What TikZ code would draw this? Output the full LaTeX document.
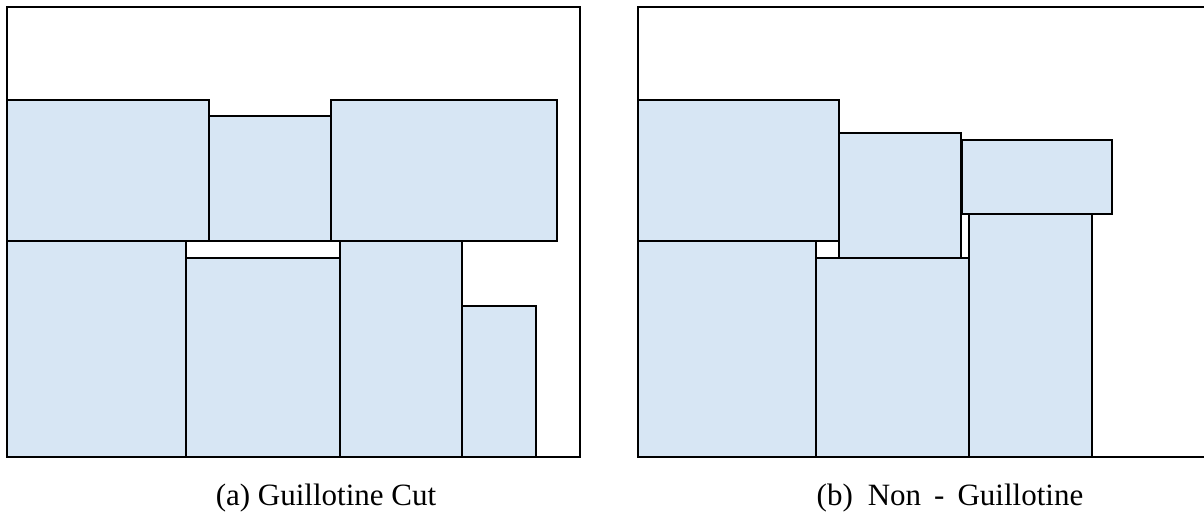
\documentclass[tikz,border=0pt]{standalone}
\usepackage{fontspec}
\setmainfont{Liberation Serif}
\definecolor{boxfill}{RGB}{215,230,244}
\begin{document}
\begin{tikzpicture}[x=1pt,y=-1pt,
  frame/.style={draw=black,line width=2pt},
  piece/.style={draw=black,fill=boxfill,line width=2pt},
  caption/.style={anchor=base,inner sep=0pt,font=\fontsize{31}{36}\selectfont}]
\useasboundingbox (0,0) rectangle (1204,514);
% left panel: guillotine cut
\draw[frame] (7,7) rectangle (580,457);
\draw[piece] (7,100) rectangle (209,241);
\draw[piece] (209,116) rectangle (331,241);
\draw[piece] (331,100) rectangle (557,241);
\draw[piece] (7,241) rectangle (186,457);
\draw[piece] (186,258) rectangle (340,457);
\draw[piece] (340,241) rectangle (462,457);
\draw[piece] (462,306) rectangle (536,457);
% right panel: non-guillotine
\draw[frame] (1210,7) -- (638,7) -- (638,457) -- (1210,457);
\draw[piece] (638,100) rectangle (839,241);
\draw[piece] (638,241) rectangle (816,457);
\draw[piece] (816,258) rectangle (969,457);
\draw[piece] (969,214) rectangle (1092,457);
\draw[piece] (839,133) rectangle (961,258);
\draw[piece] (962,140) rectangle (1112,214);
% captions
\node[caption] (capa) at (326,505) {(a) Guillotine Cut};
\node[caption] (capb) at (950,505) {(b)\hspace{15pt}Non\hspace{13pt}-\hspace{13pt}Guillotine};
\end{tikzpicture}
\end{document}
